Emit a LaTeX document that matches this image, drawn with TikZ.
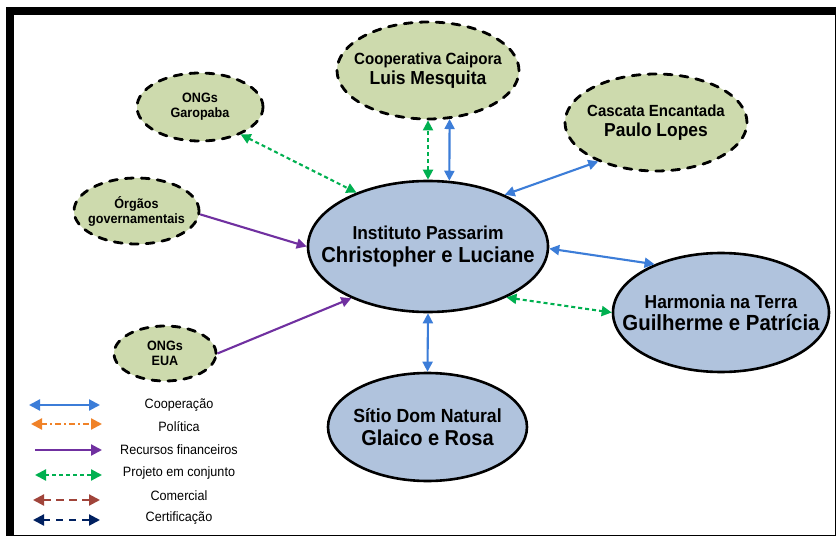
\documentclass[tikz,border=0pt]{standalone}
\usepackage{fontspec}
\setmainfont{Liberation Sans}[FakeStretch=0.93]
\usetikzlibrary{arrows.meta,shapes.geometric}

\definecolor{coopblue}{HTML}{3C7DD8}
\definecolor{polorange}{HTML}{F08228}
\definecolor{recpurple}{HTML}{7030A0}
\definecolor{projgreen}{HTML}{00B050}
\definecolor{combrown}{HTML}{A0443A}
\definecolor{certnavy}{HTML}{002060}
\definecolor{nodeblue}{HTML}{B0C3DD}
\definecolor{nodegreen}{HTML}{CDDAAD}

\newcommand{\fsz}[2]{\fontsize{#1}{#2}\selectfont}

\tikzset{
  bluenode/.style={ellipse, draw=black, line width=2.6bp, fill=nodeblue,
    align=center, inner xsep=-30bp, inner ysep=-8bp},
  greennode/.style={ellipse, draw=black, line width=2.8bp, line cap=round,
    dash pattern=on 8bp off 8bp, fill=nodegreen,
    align=center, inner xsep=-15bp, inner ysep=-6bp},
  coopline/.style={draw=coopblue, line width=2.1bp, <->},
  polline/.style={draw=polorange, line width=2.1bp, dash pattern=on 6bp off 3bp on 2bp off 3bp, <->},
  recline/.style={draw=recpurple, line width=2.1bp, ->},
  projline/.style={draw=projgreen, line width=2.1bp, dash pattern=on 4bp off 3bp, <->},
  comline/.style={draw=combrown, line width=2.1bp, dash pattern=on 8bp off 5bp, <->},
  certline/.style={draw=certnavy, line width=2.1bp, dash pattern=on 7bp off 6bp, <->},
  legtext/.style={font=\fsz{13.6}{15}, inner sep=0pt}
}

\begin{document}
\begin{tikzpicture}[x=1bp, y=-1bp, >={Triangle[length=10bp,width=10bp]}]

  \useasboundingbox (0,0) rectangle (836,536);
  % frame
  \fill[black] (6,7) rectangle (835.5,535.5);
  \fill[white] (14,15) rectangle (834.5,534.5);

  % actors
  \node[bluenode, minimum width=240bp, minimum height=131bp,
    font=\bfseries\fsz{18.8}{24}] (inst) at (428,246.5)
    {Instituto Passarim\\\fsz{21.8}{24}Christopher e Luciane};
  \node[greennode, minimum width=182bp, minimum height=97bp,
    font=\bfseries\fsz{16.3}{20}] (coop) at (428,70.5)
    {Cooperativa Caipora\\\fsz{18.9}{20}Luis Mesquita};
  \node[greennode, minimum width=182bp, minimum height=97bp,
    font=\bfseries\fsz{16.2}{20}] (cascata) at (656,122.5)
    {Cascata Encantada\\\fsz{18.8}{20}Paulo Lopes};
  \node[bluenode, minimum width=216bp, minimum height=119bp,
    font=\bfseries\fsz{18.8}{22}] (harm) at (721,312.5)
    {Harmonia na Terra\\\fsz{22}{22}Guilherme e Patrícia};
  \node[bluenode, minimum width=199bp, minimum height=108bp,
    font=\bfseries\fsz{19.1}{23}] (sitio) at (427.5,427)
    {Sítio Dom Natural\\\fsz{21.6}{23}Glaico e Rosa};
  \node[greennode, minimum width=126bp, minimum height=68bp,
    font=\bfseries\fsz{13.6}{15}] (ongsg) at (200,107) {ONGs\\Garopaba};
  \node[greennode, minimum width=125bp, minimum height=66bp,
    font=\bfseries\fsz{13.6}{15}] (orgaos) at (136.5,211) {Órgãos\\governamentais};
  \node[greennode, minimum width=102bp, minimum height=55bp,
    font=\bfseries\fsz{13.6}{15}] (ongseua) at (165,353.5) {ONGs\\EUA};

  % relations
  \draw[projline] (ongsg.-34) -- (inst.143);
  \draw[recline] (orgaos.-3) -- (inst.180);
  \draw[recline] (ongseua.0) -- (inst.214);
  \draw[projline] (inst.90) -- (coop.-90);
  \draw[coopline] (inst.72) -- (coop.-66);
  \draw[coopline] (inst.34) -- (cascata.214);
  \draw[coopline] (inst.-1) -- (harm.144);
  \draw[projline] (inst.-33) -- (harm.180);
  \draw[coopline] (inst.-90) -- (sitio.90);

  % legend
  \begin{scope}[>={Triangle[length=11bp,width=11bp]}]
    \coordinate (lcoopa) at (29,405);  \coordinate (lcoopb) at (100,405);
    \coordinate (lpola) at (31,424);   \coordinate (lpolb) at (102,424);
    \coordinate (lreca) at (35,450);   \coordinate (lrecb) at (102,450);
    \coordinate (lproja) at (35,475);  \coordinate (lprojb) at (102,475);
    \coordinate (lcoma) at (33,500);   \coordinate (lcomb) at (100,500);
    \coordinate (lcerta) at (33,520);  \coordinate (lcertb) at (100,520);
    \draw[coopline, line width=2.2bp] (lcoopa) -- (lcoopb);
    \draw[polline, line width=2.2bp] (lpola) -- (lpolb);
    \draw[recline, line width=2.2bp] (lreca) -- (lrecb);
    \draw[projline, line width=2.2bp] (lproja) -- (lprojb);
    \draw[comline, line width=2.2bp] (lcoma) -- (lcomb);
    \draw[certline, line width=2.2bp] (lcerta) -- (lcertb);
    \node[legtext] (tcoop) at (179,405) {Cooperação};
    \node[legtext] (tpol) at (179,427) {Política};
    \node[legtext] (trec) at (179,450) {Recursos financeiros};
    \node[legtext] (tproj) at (179,473) {Projeto em conjunto};
    \node[legtext] (tcom) at (179,496) {Comercial};
    \node[legtext] (tcert) at (179,518) {Certificação};
  \end{scope}

\end{tikzpicture}
\end{document}
